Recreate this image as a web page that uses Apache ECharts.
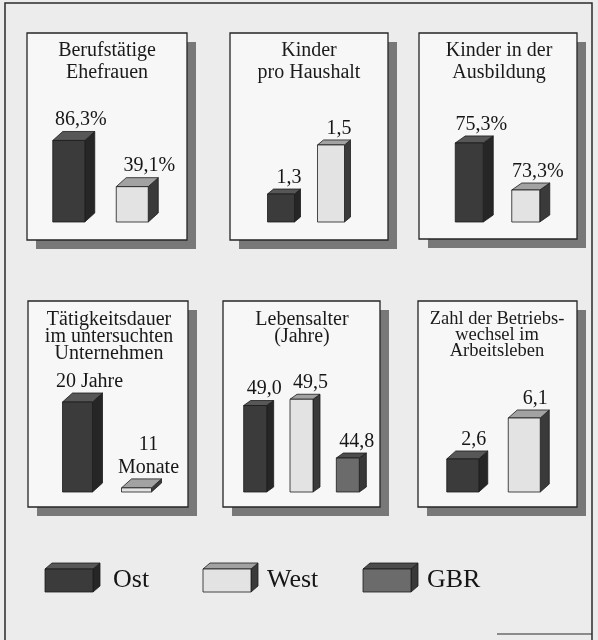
<!DOCTYPE html>
<html><head><meta charset="utf-8">
<script src="https://cdn.jsdelivr.net/npm/echarts@6/dist/echarts.min.js"></script>
<style>html,body{margin:0;padding:0;background:#ececec}#c{width:598px;height:640px}</style>
</head><body><div id="c"></div>
<script>
// ---- data ----
const seriesNames = ['Ost', 'West', 'GBR'];
const panelTitles = [
  'Berufstätige\nEhefrauen',
  'Kinder\npro Haushalt',
  'Kinder in der\nAusbildung',
  'Tätigkeitsdauer\nim untersuchten\nUnternehmen',
  'Lebensalter\n(Jahre)',
  'Zahl der Betriebs-\nwechsel im\nArbeitsleben'
];
const berufstaetigeEhefrauen = [86.3, 39.1];
const kinderProHaushalt = [1.3, 1.5];
const kinderInAusbildung = [75.3, 73.3];
const taetigkeitsdauerMonate = [240, 11];
const lebensalter = [49.0, 49.5, 44.8];
const betriebswechsel = [2.6, 6.1];
const valueLabels = [
  ['86,3%', '39,1%'],
  ['1,3', '1,5'],
  ['75,3%', '73,3%'],
  ['20 Jahre', '11\nMonate'],
  ['49,0', '49,5', '44,8'],
  ['2,6', '6,1']
];
const panelValues = [berufstaetigeEhefrauen, kinderProHaushalt, kinderInAusbildung,
  taetigkeitsdauerMonate, lebensalter, betriebswechsel];

// ---- layout / style ----
const FONT = '"Liberation Serif", "Times New Roman", serif';
const panelLayout = [
  {box: [27, 33, 160, 207], grid: [37, 130, 127, 92], yr: [3, 97], bw: 32, dx: 10, dy: 9, tx: 107, ty: 40, lh: 22, fs: 20, lo: [0, 5]},
  {box: [230, 33, 158, 207], grid: [256, 130, 100, 92], yr: [1.186, 1.561], bw: 27, dx: 6, dy: 5, tx: 309, ty: 40, lh: 22, fs: 20, lo: [0, 0]},
  {box: [419, 33, 158, 206], grid: [441, 130, 113, 92], yr: [71.94, 75.85], bw: 28, dx: 10, dy: 7, tx: 499, ty: 40, lh: 22, fs: 20, lo: [0, 0]},
  {box: [28, 301, 160, 206], grid: [48, 392, 118, 100], yr: [0, 266.7], bw: 30, dx: 10, dy: 9, tx: 109, ty: 311, lh: 17, fs: 20, lo: [0, 0]},
  {box: [223, 301, 157, 206], grid: [232, 392, 139, 100], yr: [42.08, 50.08], bw: 23, dx: 7, dy: 5, tx: 302, ty: 311, lh: 17, fs: 20, lo: [0, 0, 0]},
  {box: [418, 301, 159, 206], grid: [432, 392, 123, 100], yr: [-0.22, 8.32], bw: 32, dx: 9, dy: 8, tx: 497, ty: 311, lh: 16, fs: 18.5, lo: [0, 0]}
];
const faceColors = {
  Ost:  {front: '#3b3b3b', side: '#262626', top: '#575757'},
  West: {front: '#e3e3e3', side: '#3a3a3a', top: '#a2a2a2'},
  GBR:  {front: '#6b6b6b', side: '#383838', top: '#4c4c4c'}
};
const EDGE = '#1c1c1c';

function faceStyle(fill) { return {fill: fill, stroke: EDGE, lineWidth: 0.8, lineJoin: 'round'}; }

function makeRender(p, pi) {
  return function (params, api) {
    const i = api.value(0), v = api.value(1);
    const tp = api.coord([i, v]);
    const bp = api.coord([i, p.yr[0]]);
    const w = p.bw, dx = p.dx, dy = p.dy;
    const x0 = tp[0] - w / 2, x1 = tp[0] + w / 2, y0 = tp[1], y1 = bp[1];
    const c = faceColors[seriesNames[i]];
    return {
      type: 'group',
      children: [
        {type: 'polygon', shape: {points: [[x1, y0], [x1 + dx, y0 - dy], [x1 + dx, y1 - dy], [x1, y1]]}, style: faceStyle(c.side)},
        {type: 'polygon', shape: {points: [[x0, y0], [x0 + dx, y0 - dy], [x1 + dx, y0 - dy], [x1, y0]]}, style: faceStyle(c.top)},
        {type: 'rect', shape: {x: x0, y: y0, width: w, height: y1 - y0}, style: faceStyle(c.front)},
        {type: 'text', x: tp[0] + dx + 2 + p.lo[i], y: y0 - dy,
          style: {text: valueLabels[pi][i], textAlign: 'center', align: 'center', textVerticalAlign: 'bottom', verticalAlign: 'bottom',
            font: '20px ' + FONT, lineHeight: 23, fill: '#161616'}}
      ]
    };
  };
}

const grids = [], xAxes = [], yAxes = [], series = [], graphics = [];
panelLayout.forEach(function (p, pi) {
  const n = panelValues[pi].length;
  grids.push({left: p.grid[0], top: p.grid[1], width: p.grid[2], height: p.grid[3]});
  xAxes.push({type: 'category', gridIndex: pi, data: seriesNames.slice(0, n), show: false});
  yAxes.push({type: 'value', gridIndex: pi, min: p.yr[0], max: p.yr[1], show: false});
  series.push({
    type: 'custom', name: panelTitles[pi], xAxisIndex: pi, yAxisIndex: pi, z: 10,
    renderItem: makeRender(p, pi),
    data: panelValues[pi].map(function (v, i) { return [i, v]; })
  });
  const b = p.box;
  graphics.push({type: 'rect', z: 1, shape: {x: b[0] + 9, y: b[1] + 9, width: b[2], height: b[3]}, style: {fill: '#787878'}});
  graphics.push({type: 'rect', z: 2, shape: {x: b[0], y: b[1], width: b[2], height: b[3]}, style: {fill: '#f7f7f7', stroke: '#262626', lineWidth: 1.3}});
  graphics.push({type: 'text', z: 3, x: p.tx, y: p.ty,
    style: {text: panelTitles[pi], textAlign: 'center', align: 'center', textVerticalAlign: 'top', verticalAlign: 'top',
      font: p.fs + 'px ' + FONT, lineHeight: p.lh, fill: '#1a1a1a'}});
});

// outer frame
graphics.push({type: 'polyline', z: 1, shape: {points: [[5, 660], [5, 3], [592, 3], [592, 660]]}, style: {stroke: '#2a2a2a', lineWidth: 1.5, fill: null}});
graphics.push({type: 'line', z: 1, shape: {x1: 497, y1: 634, x2: 592, y2: 634}, style: {stroke: '#2a2a2a', lineWidth: 1.2}});

// legend
const legendLayout = [{x: 45, tx: 113}, {x: 203, tx: 267}, {x: 363, tx: 427}];
seriesNames.forEach(function (name, i) {
  const L = legendLayout[i], c = faceColors[name];
  const x0 = L.x, x1 = L.x + 48, y0 = 569, y1 = 592, dx = 7, dy = 6;
  graphics.push({type: 'polygon', z: 3, shape: {points: [[x1, y0], [x1 + dx, y0 - dy], [x1 + dx, y1 - dy], [x1, y1]]}, style: faceStyle(c.side)});
  graphics.push({type: 'polygon', z: 3, shape: {points: [[x0, y0], [x0 + dx, y0 - dy], [x1 + dx, y0 - dy], [x1, y0]]}, style: faceStyle(c.top)});
  graphics.push({type: 'rect', z: 3, shape: {x: x0, y: y0, width: x1 - x0, height: y1 - y0}, style: faceStyle(c.front)});
  graphics.push({type: 'text', z: 3, x: L.tx, y: 580,
    style: {text: name, textAlign: 'left', align: 'left', textVerticalAlign: 'middle', verticalAlign: 'middle', font: '26px ' + FONT, fill: '#161616'}});
});

const chart = echarts.init(document.getElementById('c'), null, {renderer: 'canvas'});
chart.setOption({
  backgroundColor: '#ececec',
  animation: false,
  grid: grids, xAxis: xAxes, yAxis: yAxes, series: series,
  graphic: {elements: graphics}
});
</script></body></html>
